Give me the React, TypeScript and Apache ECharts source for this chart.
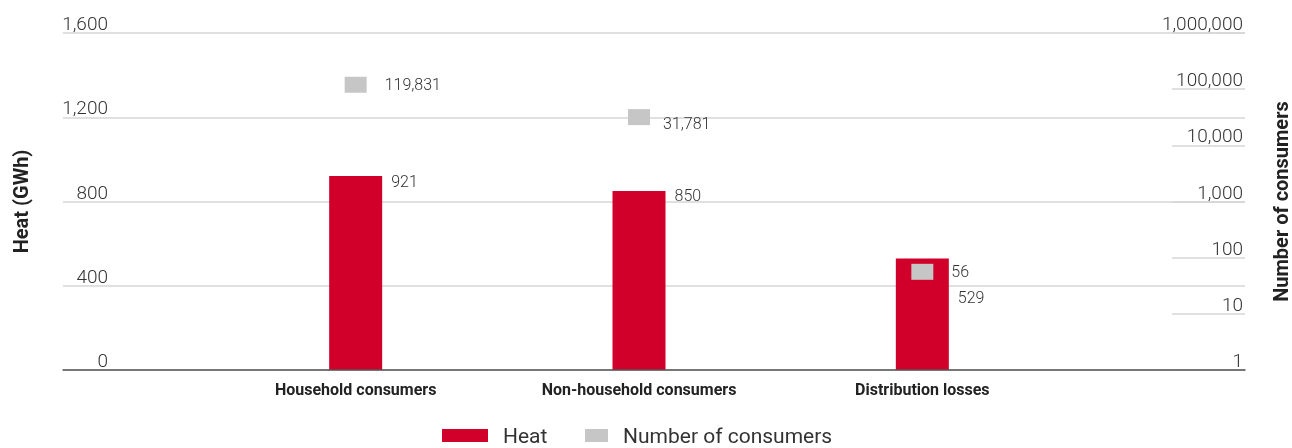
import React, { useEffect, useRef } from "react";
import * as echarts from "echarts";

const categories = ["Household consumers", "Non-household consumers", "Distribution losses"];
const heatGWh = [921, 850, 529];
const consumers = [119831, 31781, 56];
const heatTicks = { min: 0, max: 1600, interval: 400 };
const consumerRange = { min: 1, max: 1000000 };

const RED = "#D0002A";
const GRAY = "#C6C6C6";
const GRID = "#D6D6D6";
const TXT = "#333333";
const FONT = "Roboto, 'Open Sans', sans-serif";

const fmt = (v: number) => Number(v).toLocaleString("en-US");

export default function App() {
  const ref = useRef<HTMLDivElement>(null);
  useEffect(() => {
    if (!ref.current) return;
    const chart = echarts.init(ref.current, null, { renderer: "svg" });
    const legendText = {
      fontSize: 21,
      lineHeight: 18,
      color: TXT,
      fontFamily: FONT,
      padding: [0, 0, 0, 10],
    };
    chart.setOption({
      animation: false,
      textStyle: { fontFamily: FONT },
      grid: [
        { left: 63, right: 47, top: 33, bottom: 78, outerBoundsMode: "none", containLabel: false },
        { left: 214, right: 228, top: 33, bottom: 78, outerBoundsMode: "none", containLabel: false },
      ],
      legend: [
        {
          data: ["Heat"],
          left: 442,
          top: 425,
          padding: 0,
          icon: "rect",
          itemWidth: 46,
          itemHeight: 13,
          selectedMode: false,
          textStyle: legendText,
        },
        {
          data: ["Number of consumers"],
          left: 585,
          top: 425,
          padding: 0,
          icon: "rect",
          itemWidth: 23,
          itemHeight: 13,
          selectedMode: false,
          textStyle: legendText,
        },
      ],
      xAxis: [
        {
          type: "category",
          gridIndex: 0,
          z: 5,
          data: categories,
          axisLine: { show: true, lineStyle: { color: "#555555", width: 1.5 } },
          axisTick: { show: false },
          axisLabel: { show: false },
          splitLine: { show: false },
        },
        {
          type: "category",
          gridIndex: 1,
          data: categories,
          axisLine: { show: false },
          axisTick: { show: false },
          axisLabel: {
            margin: 11,
            fontSize: 16,
            fontWeight: "bold",
            color: "#222222",
            fontFamily: FONT,
          },
        },
      ],
      yAxis: [
        {
          type: "value",
          gridIndex: 0,
          min: heatTicks.min,
          max: heatTicks.max,
          interval: heatTicks.interval,
          name: "Heat (GWh)",
          nameLocation: "middle",
          nameGap: 32,
          nameTextStyle: { fontSize: 20, fontWeight: "bold", color: "#222222", fontFamily: FONT },
          axisLine: { show: false },
          axisTick: { show: false },
          axisLabel: {
            inside: true,
            align: "right",
            margin: 45,
            verticalAlign: "bottom",
            fontSize: 19,
            fontWeight: 300,
            color: TXT,
            formatter: (v: number) => fmt(v),
          },
          splitLine: { show: true, lineStyle: { color: GRID, width: 1.5 } },
        },
        {
          type: "log",
          logBase: 10,
          gridIndex: 0,
          position: "right",
          min: consumerRange.min,
          max: consumerRange.max,
          name: "Number of consumers",
          nameLocation: "middle",
          nameGap: 26,
          nameTextStyle: { fontSize: 20, fontWeight: "bold", color: "#222222", fontFamily: FONT },
          axisLine: { show: false },
          axisTick: { show: true, inside: true, length: 73, lineStyle: { color: GRID, width: 1.5 } },
          axisLabel: {
            inside: true,
            align: "right",
            margin: 2,
            verticalAlign: "bottom",
            fontSize: 19,
            fontWeight: 300,
            color: TXT,
            formatter: (v: number) => fmt(v),
          },
          splitLine: { show: false },
        },
        {
          type: "value",
          gridIndex: 1,
          show: false,
          min: heatTicks.min,
          max: heatTicks.max,
          interval: heatTicks.interval,
          splitLine: { show: false },
        },
        {
          type: "log",
          logBase: 10,
          gridIndex: 1,
          show: false,
          min: consumerRange.min,
          max: consumerRange.max,
          splitLine: { show: false },
        },
      ],
      series: [
        {
          name: "Heat",
          type: "bar",
          xAxisIndex: 1,
          yAxisIndex: 2,
          barWidth: 53,
          itemStyle: { color: RED },
          data: heatGWh.map((v, i) =>
            i === 2
              ? { value: v, label: { position: [62, 31] } }
              : { value: v }
          ),
          label: {
            show: true,
            position: [62, -3],
            align: "left",
            verticalAlign: "top",
            fontSize: 16,
            color: TXT,
            fontWeight: 300,
            formatter: (p: any) => fmt(p.value),
          },
        },
        {
          name: "Number of consumers",
          type: "scatter",
          xAxisIndex: 1,
          yAxisIndex: 3,
          symbol: "rect",
          symbolSize: [22, 16],
          itemStyle: { color: GRAY, opacity: 1 },
          data: consumers.map((v, i) =>
            i === 1 ? { value: v, label: { offset: [-5, 6] } } : { value: v }
          ),
          label: {
            show: true,
            position: "right",
            distance: 18,
            fontSize: 16,
            color: TXT,
            fontWeight: 300,
            formatter: (p: any) => fmt(p.value),
          },
        },
      ],
    });
    return () => chart.dispose();
  }, []);
  return (
    <div
      ref={ref}
      style={{ position: "fixed", left: 0, top: 0, width: 1292, height: 448 }}
    />
  );
}
